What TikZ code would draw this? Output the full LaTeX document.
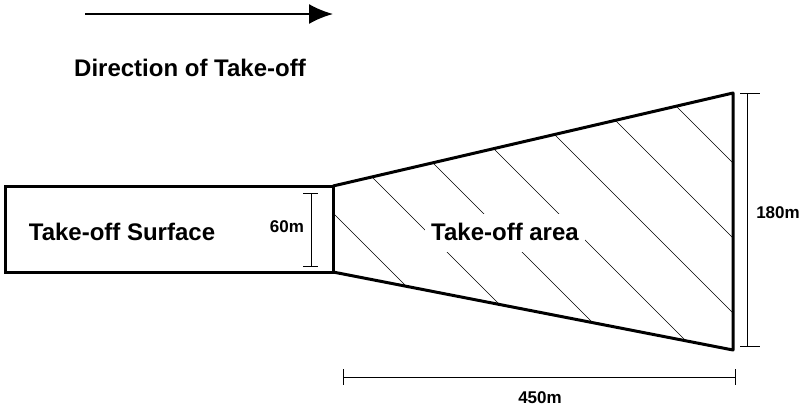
\documentclass[tikz,border=0pt]{standalone}
\usepackage{fontspec}
\setmainfont{Liberation Sans}
\usetikzlibrary{arrows.meta}
\begin{document}
\begin{tikzpicture}[x=1pt,y=-1pt,font=\bfseries\fontsize{24}{26}\selectfont]
\useasboundingbox (0,0) rectangle (807,408);
\coordinate (s) at (85,14);
\coordinate (t) at (333,14);
\draw [line width=2pt, -{Latex[length=24pt,width=20pt]}] (s) -- (t);
\node (dir) at (190,68) {Direction of Take-off};
% surface
\coordinate (a) at (5,186);
\coordinate (b) at (333,186);
\coordinate (c) at (333,272);
\coordinate (d) at (5,272);
\coordinate (e) at (733,93);
\coordinate (f) at (733,350);
\begin{scope}
\clip (b) -- (e) -- (f) -- (c) -- cycle;
\foreach \i in {0,...,9}
  \draw [thin] (200+\i*75,80) -- +(300,300);
\fill [white] (425,214) rectangle (585,252);
\end{scope}
\draw [line width=3pt] (a) -- (b) -- (c) -- (d) -- cycle;
\draw [line width=3pt, line join=round] (b) -- (e) -- (f) -- (c);
\node (surf) at (122,232) {Take-off Surface};
\node (area) at (505,232) {Take-off area};
% dimensions
\draw [thin] (303,193) -- (318,193);
\draw [thin] (303,266) -- (318,266);
\draw [thin] (311,193) -- (311,266);
\node [font=\bfseries\fontsize{17}{19}\selectfont] (w1) at (287,227) {60m};
\draw [thin] (740,93) -- (760,93);
\draw [thin] (740,346) -- (760,346);
\draw [thin] (747,93) -- (747,346);
\node [font=\bfseries\fontsize{17}{19}\selectfont] (w2) at (778,213) {180m};
\draw [thin] (343,369) -- (343,385);
\draw [thin] (735,369) -- (735,385);
\draw [thin] (343,377) -- (735,377);
\node [font=\bfseries\fontsize{17}{19}\selectfont] (len) at (540,398) {450m};
\end{tikzpicture}
\end{document}
